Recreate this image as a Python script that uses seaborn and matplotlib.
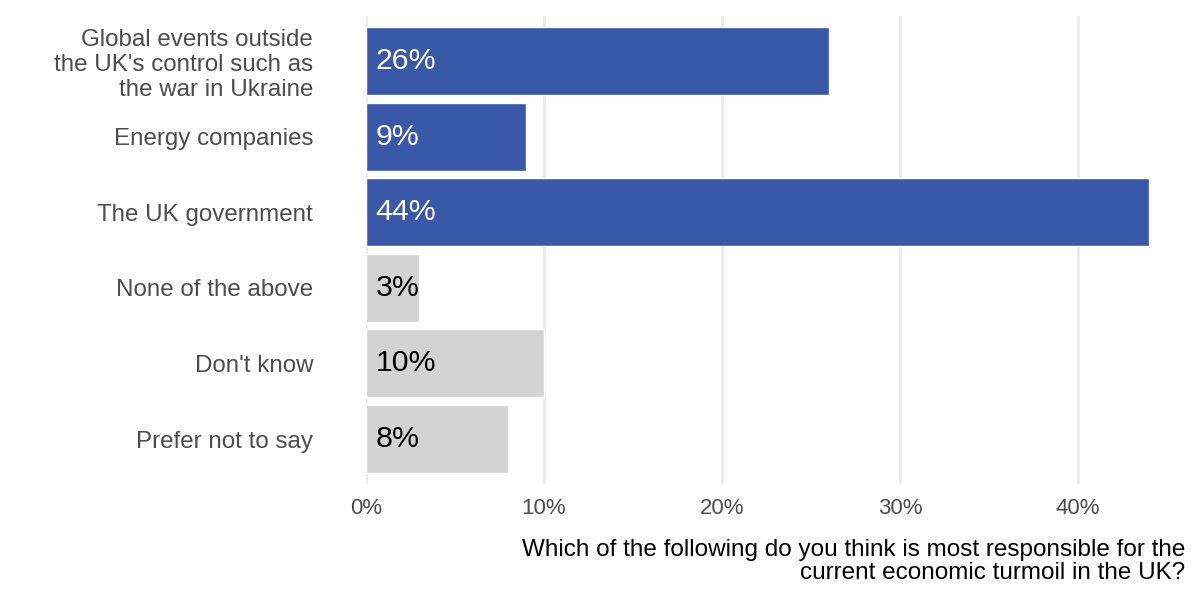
import matplotlib
matplotlib.use("Agg")
import matplotlib.pyplot as plt
import seaborn as sns
import pandas as pd

categories = [
    "Global events outside\nthe UK's control such as\nthe war in Ukraine",
    "Energy companies",
    "The UK government",
    "None of the above",
    "Don't know",
    "Prefer not to say",
]
values = [26, 9, 44, 3, 10, 8]
highlight = [True, True, True, False, False, False]
x_ticks = [0, 10, 20, 30, 40]
x_tick_labels = ["0%", "10%", "20%", "30%", "40%"]
x_title = "Which of the following do you think is most responsible for the\ncurrent economic turmoil in the UK?"

BLUE = "#3A58A8"
GREY = "#D3D3D3"

sns.set_theme(style="white")
plt.rcParams["font.family"] = ["Liberation Sans", "DejaVu Sans"]

df = pd.DataFrame({"cat": categories, "val": values,
                   "grp": ["hi" if h else "lo" for h in highlight]})

fig = plt.figure(figsize=(12, 6), dpi=100)
ax = fig.add_axes([0.305, 0.1927, 0.6825, 0.7813])

for x in x_ticks:
    ax.axvline(x, color="#EBEBEB", lw=2, zorder=0)

sns.barplot(data=df, y="cat", x="val", hue="grp", order=categories,
            palette={"hi": BLUE, "lo": GREY}, width=0.9, dodge=False,
            legend=False, ax=ax, zorder=2, saturation=1)

for i, (v, h) in enumerate(zip(values, highlight)):
    ax.annotate(f"{v}%", xy=(0, i), xytext=(7, 0), textcoords="offset points",
                ha="left", va="center", fontsize=21.8,
                color="white" if h else "black", zorder=3)

ax.set_xlim(0, 46.0)
ax.set_ylim(5.6, -0.6)
ax.set_xticks(x_ticks)
ax.set_xticklabels(x_tick_labels, fontsize=16, color="#4D4D4D")
ax.tick_params(axis="y", labelsize=17.4, labelcolor="#4D4D4D", length=0, pad=38)
ax.tick_params(axis="x", length=0, pad=9.5)
for lab in ax.get_yticklabels():
    lab.set_linespacing(1.17)
ax.set_ylabel("")
ax.set_xlabel(x_title, fontsize=17.5, color="black", ha="right", x=1.0,
              labelpad=14.5, linespacing=1.1)
for s in ax.spines.values():
    s.set_visible(False)

fig.savefig("out.png", dpi=100)
